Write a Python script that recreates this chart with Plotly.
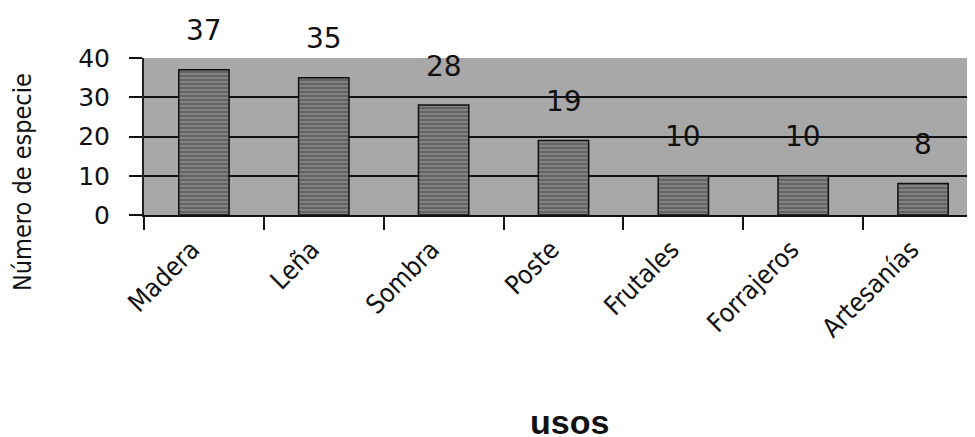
import plotly.graph_objects as go

categories = ["Madera", "Leña", "Sombra", "Poste", "Frutales", "Forrajeros", "Artesanías"]
values = [37, 35, 28, 19, 10, 10, 8]
y_ticks = [0, 10, 20, 30, 40]

narrow = "DejaVu Sans Condensed, Liberation Sans Narrow, Liberation Sans, sans-serif"
num_font = "DejaVu Sans, Liberation Sans, sans-serif"

fig = go.Figure()
fig.add_trace(go.Bar(
    x=categories, y=values, width=0.42,
    marker=dict(
        color="#707070",
        line=dict(color="#111111", width=1.5),
        pattern=dict(shape="-", fgcolor="#2a2a2a", bgcolor="#828282", size=4, solidity=0.35),
    ),
    showlegend=False,
))

for c, v in zip(categories, values):
    fig.add_annotation(x=c, y=v, text=str(v), showarrow=False, yshift=39,
                       yanchor="middle", font=dict(family=num_font, size=28, color="#111111"))

fig.add_annotation(xref="paper", yref="paper", x=-0.1454, y=0.21, text="Número de especie",
                   textangle=-90, showarrow=False, xanchor="center", yanchor="middle",
                   font=dict(family=narrow, size=25, color="#111111"))
fig.add_annotation(xref="paper", yref="paper", x=0.5066, y=-1.32, text="<b>usos</b>",
                   showarrow=False, xanchor="center", yanchor="middle",
                   font=dict(family="Liberation Sans, Arial, sans-serif", size=34, color="#111111"))

fig.update_layout(
    width=975, height=437,
    margin=dict(l=136, r=0, t=50, b=230),
    paper_bgcolor="white",
    plot_bgcolor="#a8a8a8",
)
fig.update_xaxes(
    range=[-0.5, 6.5], type="category", tickson="boundaries",
    ticks="outside", ticklen=13, tickwidth=2, tickcolor="#111111",
    tickangle=-45, ticklabelstandoff=7, ticklabelshift=-12,
    tickfont=dict(family=narrow, size=26, color="#111111"),
    showline=True, linecolor="#111111", linewidth=2,
    showgrid=False, zeroline=False,
)
fig.update_yaxes(
    range=[0, 40], tickvals=y_ticks, ticktext=[str(t) for t in y_ticks],
    ticks="outside", ticklen=13, tickwidth=2, tickcolor="#111111",
    ticklabelstandoff=14,
    tickfont=dict(family=num_font, size=25, color="#111111"),
    showgrid=True, gridcolor="#111111", gridwidth=2,
    showline=True, linecolor="#222222", linewidth=2,
    zeroline=False,
)

fig.write_html("out.html")
